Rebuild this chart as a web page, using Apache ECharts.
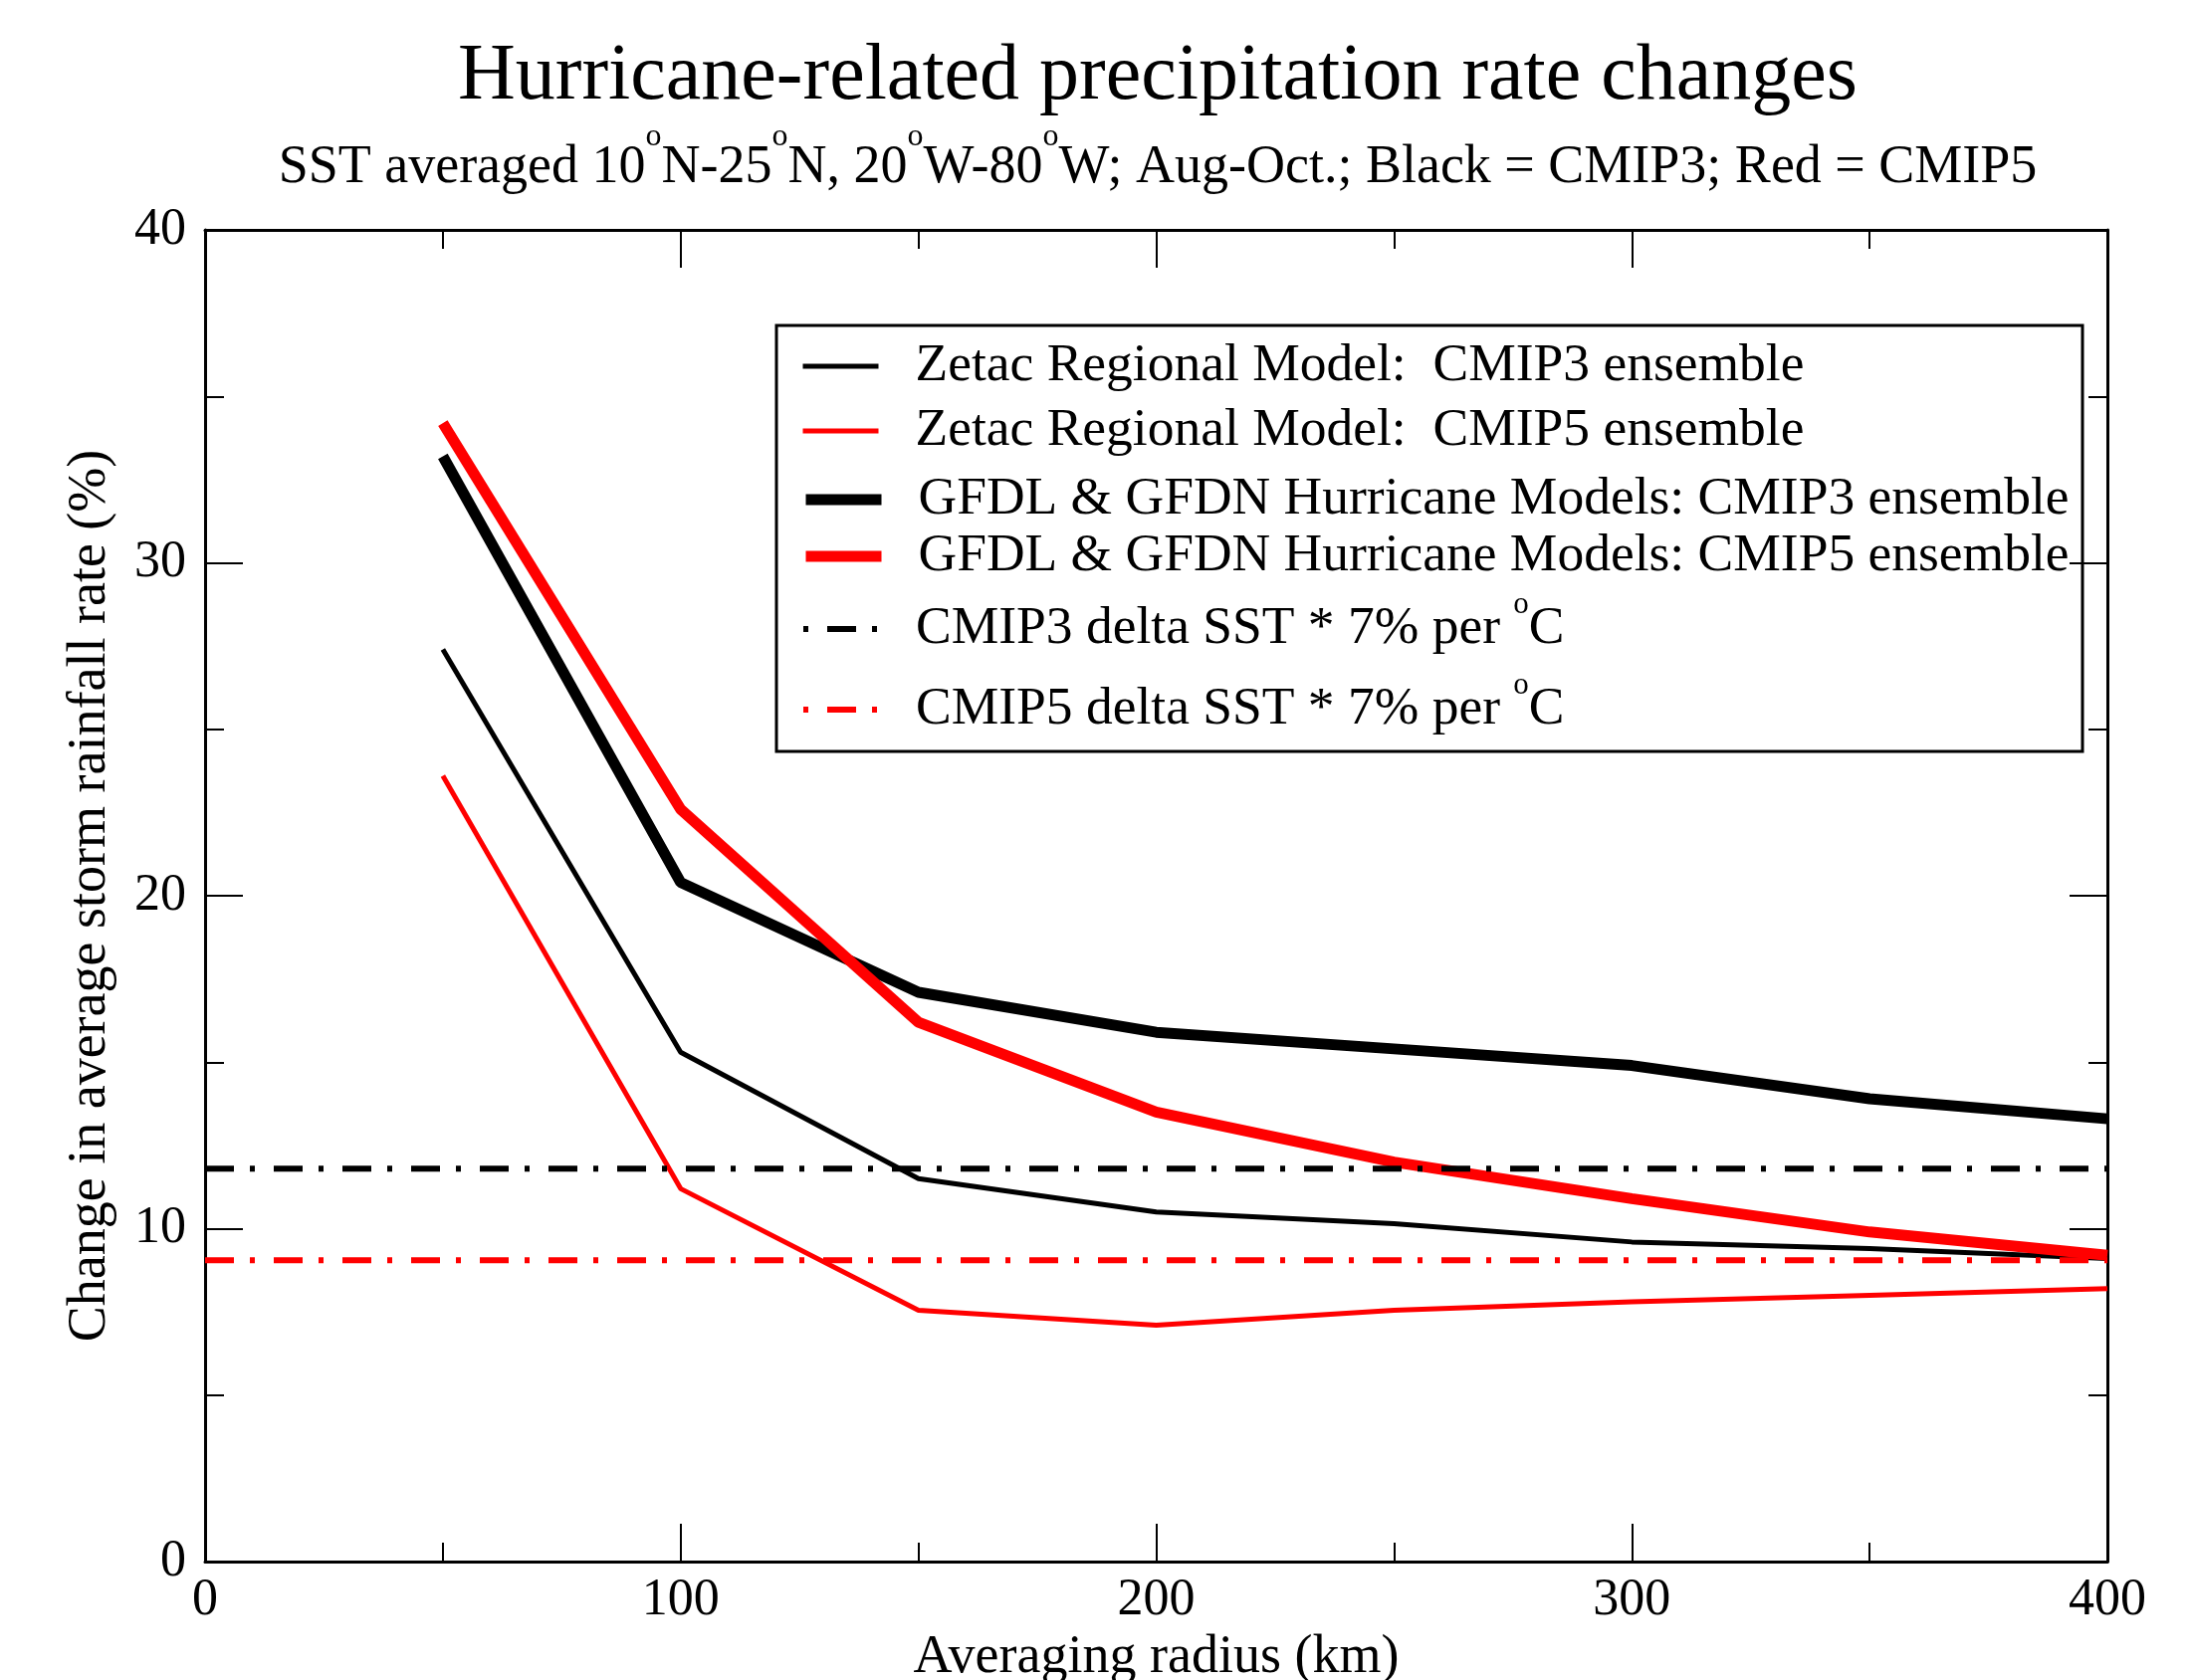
<!DOCTYPE html>
<html>
<head>
<meta charset="utf-8">
<script src="https://cdn.jsdelivr.net/npm/echarts@6/dist/echarts.min.js"></script>
<style>html,body{margin:0;padding:0;background:#fff}#c{width:2200px;height:1688px}</style>
</head>
<body>
<div id="c"></div>
<script>
const FONT = 'Liberation Serif';
const radius = [50, 100, 150, 200, 250, 300, 350, 400];
const zetacCmip3 = [27.4, 15.3, 11.5, 10.5, 10.15, 9.6, 9.4, 9.1];
const zetacCmip5 = [23.6, 11.2, 7.55, 7.1, 7.55, 7.8, 8.0, 8.2];
const gfdlCmip3 = [33.2, 20.4, 17.1, 15.9, 15.4, 14.9, 13.9, 13.3];
const gfdlCmip5 = [34.2, 22.6, 16.2, 13.5, 12.0, 10.9, 9.9, 9.2];
const sstRange = [0, 400];
const cmip3Sst = 11.8;
const cmip5Sst = 9.05;
const names = [
  'Zetac Regional Model:  CMIP3 ensemble',
  'Zetac Regional Model:  CMIP5 ensemble',
  'GFDL & GFDN Hurricane Models: CMIP3 ensemble',
  'GFDL & GFDN Hurricane Models: CMIP5 ensemble',
  'CMIP3 delta SST * 7% per °C',
  'CMIP5 delta SST * 7% per °C'
];
const titleText = 'Hurricane-related precipitation rate changes';
const subText = 'SST averaged 10{s|o}N-25{s|o}N, 20{s|o}W-80{s|o}W; Aug-Oct.; Black = CMIP3; Red = CMIP5';
const xName = 'Averaging radius (km)';
const yName = 'Change in average storm rainfall rate (%)';

const BLACK = '#000000', RED = '#ff0000';
const dashDot = [29, 16, 5, 19];
const pair = (xs, ys) => xs.map((x, i) => [x, ys[i]]);
const flat = (xs, v) => xs.map(x => [x, v]);

const legendTops = [341, 406, 475, 532, 592, 673];

function axisCommon(show) {
  return {
    axisLine: { show: true, onZero: false, lineStyle: { color: BLACK, width: 3 } },
    axisTick: { show: true, inside: true, length: 38, lineStyle: { color: BLACK, width: 2 } },
    minorTick: { show: true, splitNumber: 2, length: 19, lineStyle: { color: BLACK, width: 2 } },
    splitLine: { show: false },
    minorSplitLine: { show: false },
    axisLabel: { show: show, fontFamily: FONT, fontSize: 52, color: BLACK }
  };
}

const chart = echarts.init(document.getElementById('c'), null, { renderer: 'canvas' });
chart.setOption({
  animation: false,
  backgroundColor: '#fff',
  title: [
    { text: titleText, left: 1163, top: 38, textAlign: 'center', padding: 0,
      textStyle: { fontFamily: FONT, fontSize: 80, fontWeight: 'normal', color: BLACK } },
    { text: subText, left: 1163, top: 142, textAlign: 'center', padding: 0,
      textStyle: { fontFamily: FONT, fontSize: 54, fontWeight: 'normal', color: BLACK,
        rich: { s: { fontFamily: FONT, fontSize: 32, color: BLACK, verticalAlign: 'top', padding: [-20, 0, 0, 0] } } } }
  ],
  grid: { left: 206, right: 83, top: 231, bottom: 119, containLabel: false, outerBoundsMode: 'none' },
  legend: names.map((n, i) => ({
    data: [n], left: 804, top: legendTops[i], orient: 'vertical', padding: 0,
    itemWidth: 76, itemHeight: 2, selectedMode: false,
    itemStyle: { opacity: 0, borderWidth: 0 },
    lineStyle: { width: 'inherit', dashOffset: 45 },
    formatter: nm => nm.indexOf('°C') >= 0 ? '{t|' + nm.replace('°C', '') + '}{s|o}{t|C}' : nm,
    textStyle: { fontFamily: FONT, fontSize: 53.5, color: BLACK, padding: [0, 0, 0, 32],
      rich: {
        t: { fontFamily: FONT, fontSize: 53.5, color: BLACK },
        s: { fontFamily: FONT, fontSize: 31, color: BLACK, verticalAlign: 'top', padding: [-13, 0, 0, 0] }
      } }
  })),
  graphic: [{ type: 'rect', shape: { x: 780, y: 327, width: 1312, height: 428 },
    style: { fill: 'none', stroke: BLACK, lineWidth: 3 }, z: 0 }],
  xAxis: [
    Object.assign({ type: 'value', min: 0, max: 400, interval: 100, position: 'bottom',
      name: xName, nameLocation: 'middle', nameGap: 66,
      nameTextStyle: { fontFamily: FONT, fontSize: 54, color: BLACK } }, axisCommon(true),
      { axisLabel: { show: true, fontFamily: FONT, fontSize: 52, color: BLACK, margin: 13 } }),
    Object.assign({ type: 'value', min: 0, max: 400, interval: 100, position: 'top' }, axisCommon(false))
  ],
  yAxis: [
    Object.assign({ type: 'value', min: 0, max: 40, interval: 10, position: 'left',
      name: yName, nameLocation: 'middle', nameGap: 88,
      nameTextStyle: { fontFamily: FONT, fontSize: 54, color: BLACK } }, axisCommon(true),
      { axisLabel: { show: true, fontFamily: FONT, fontSize: 52, color: BLACK, margin: 19 } }),
    Object.assign({ type: 'value', min: 0, max: 40, interval: 10, position: 'right' }, axisCommon(false))
  ],
  series: [
    { name: names[0], type: 'line', data: pair(radius, zetacCmip3), symbol: 'none',
      lineStyle: { color: BLACK, width: 5 }, itemStyle: { color: BLACK } },
    { name: names[1], type: 'line', data: pair(radius, zetacCmip5), symbol: 'none',
      lineStyle: { color: RED, width: 5 }, itemStyle: { color: RED } },
    { name: names[2], type: 'line', data: pair(radius, gfdlCmip3), symbol: 'none',
      lineStyle: { color: BLACK, width: 11 }, itemStyle: { color: BLACK } },
    { name: names[3], type: 'line', data: pair(radius, gfdlCmip5), symbol: 'none',
      lineStyle: { color: RED, width: 11 }, itemStyle: { color: RED } },
    { name: names[4], type: 'line', data: flat(sstRange, cmip3Sst), symbol: 'none',
      lineStyle: { color: BLACK, width: 6, type: dashDot }, itemStyle: { color: BLACK } },
    { name: names[5], type: 'line', data: flat(sstRange, cmip5Sst), symbol: 'none',
      lineStyle: { color: RED, width: 6, type: dashDot }, itemStyle: { color: RED } }
  ]
});
</script>
</body>
</html>
